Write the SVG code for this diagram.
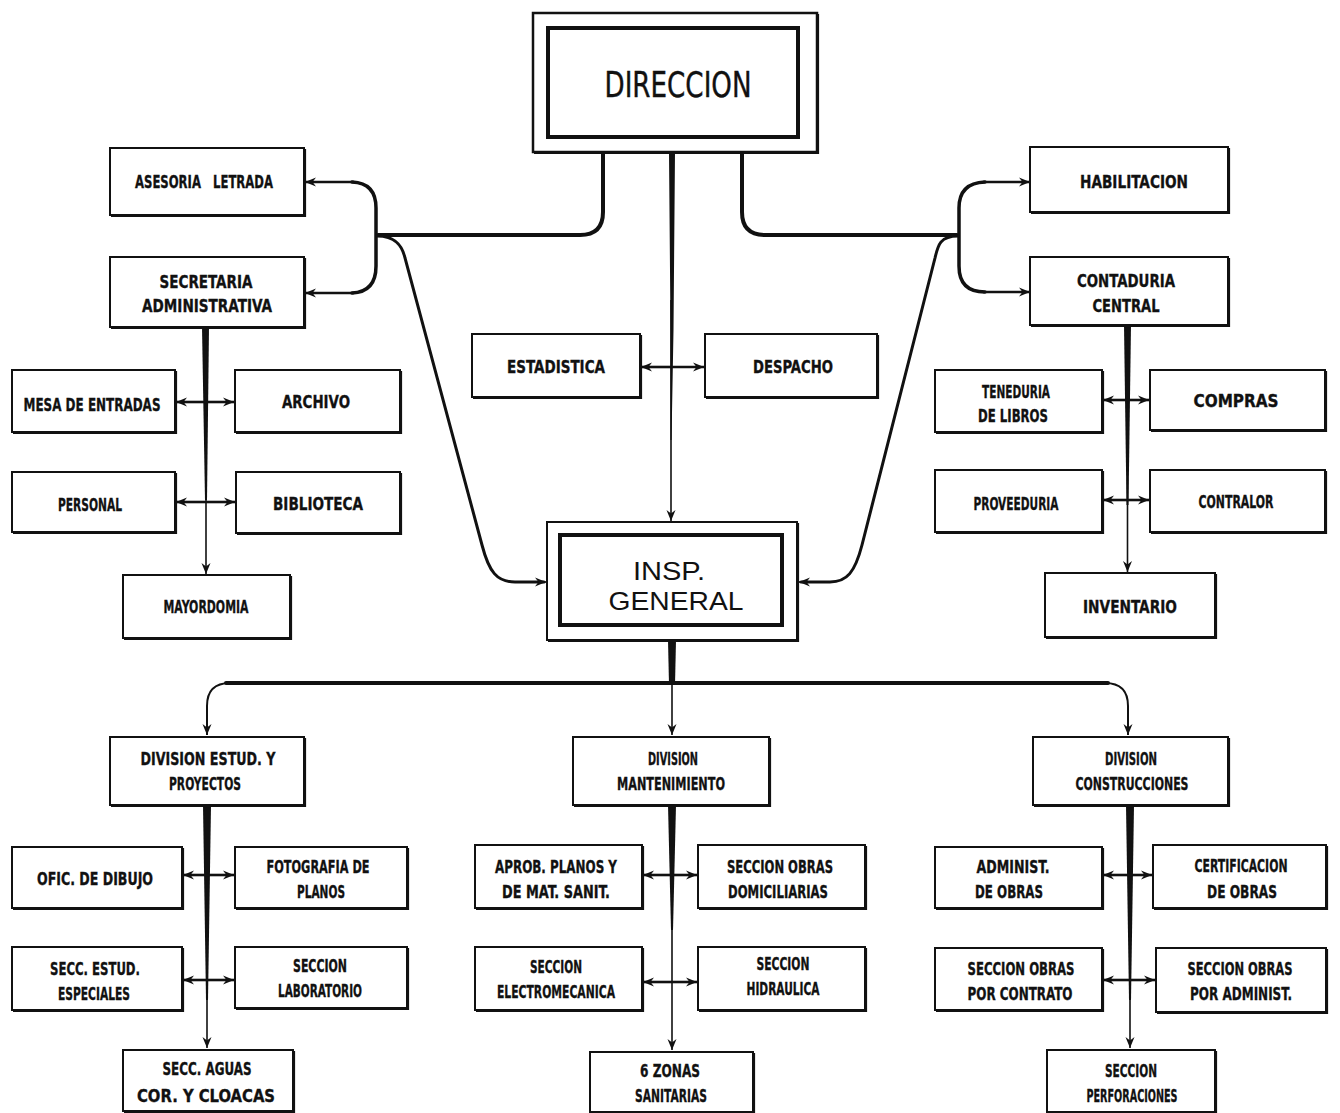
<svg xmlns="http://www.w3.org/2000/svg" width="1340" height="1113" viewBox="0 0 1340 1113">
<defs>
<marker id="arr" markerUnits="userSpaceOnUse" markerWidth="12" markerHeight="10" refX="11" refY="5" orient="auto-start-reverse">
<path d="M0,0.5 L11,5 L0,9.5 L3.5,5 z" fill="#111"/>
</marker>
</defs>
<style>
.b{fill:#fff;stroke:#111;stroke-width:2}
.sh{fill:none;stroke:#111;stroke-width:2.2}
.in{fill:none;stroke:#111;stroke-width:4}
.t{font-family:"DejaVu Sans Condensed","Liberation Sans Narrow","Liberation Sans",sans-serif;font-weight:bold;font-size:18.5px;fill:#111;stroke:#111;stroke-width:0.35;text-anchor:middle}
.big{font-family:"DejaVu Sans Condensed","Liberation Sans",sans-serif;font-weight:normal;font-size:36px;fill:#111;stroke:#111;stroke-width:0.4;text-anchor:middle}
.ig{font-family:"Liberation Sans",Arial,sans-serif;font-weight:normal;font-size:26px;fill:#111;text-anchor:middle}
.c{fill:none;stroke:#111;stroke-width:3.5;stroke-linecap:round}
.thin{fill:none;stroke:#111;stroke-width:1.6}
.dbl{fill:none;stroke:#111;stroke-width:2.6}
.tk{fill:#111;stroke:none}
</style>
<rect width="1340" height="1113" fill="#fff"/>

<g id="connectors">
<path class="c" d="M603,152 V212 Q603,235 580,235 H378" style="stroke-width:4"/>
<path class="c" d="M742,152 V212 Q742,235 765,235 H957" style="stroke-width:4"/>
<path class="c" d="M352,182 Q376,183 376,208 V266 Q376,292 352,293"/>
<path class="dbl" d="M354,182 H305" marker-end="url(#arr)"/>
<path class="dbl" d="M354,293 H305" marker-end="url(#arr)"/>
<path class="c" d="M985,182 Q959,183 959,208 V266 Q959,292 985,292"/>
<path class="dbl" d="M983,182 H1030" marker-end="url(#arr)"/>
<path class="dbl" d="M983,292 H1030" marker-end="url(#arr)"/>
<path class="c" d="M377,236 C395,236 402,245 405,258 L482,545 C489,572 497,582 515,582 H544" style="stroke-width:3"/>
<path class="thin" d="M520,582 H546" marker-end="url(#arr)"/>
<path class="c" d="M958,236 C940,236 938,245 935,258 L862,545 C855,572 847,582 830,582 H801" style="stroke-width:3"/>
<path class="thin" d="M825,582 H799" marker-end="url(#arr)"/>
<polygon class="tk" points="669,152 675,152 673.5,330 671.5,440 670.5,440 670.5,330"/>
<path class="thin" d="M671,300 V521" marker-end="url(#arr)"/>
<path class="dbl" d="M671,367 H641" marker-end="url(#arr)"/>
<path class="dbl" d="M671,367 H704" marker-end="url(#arr)"/>
<polygon class="tk" points="202,327 209,327 207,500 205,500"/>
<path class="thin" d="M206,480 V574" marker-end="url(#arr)"/>
<path class="dbl" d="M205,402 H176" marker-end="url(#arr)"/>
<path class="dbl" d="M205,402 H234" marker-end="url(#arr)"/>
<path class="dbl" d="M205,502 H176" marker-end="url(#arr)"/>
<path class="dbl" d="M205,502 H235" marker-end="url(#arr)"/>
<polygon class="tk" points="1124,325 1131,325 1128.5,505 1126.5,505"/>
<path class="thin" d="M1127.5,480 V572" marker-end="url(#arr)"/>
<path class="dbl" d="M1127,400 H1103" marker-end="url(#arr)"/>
<path class="dbl" d="M1127,400 H1149" marker-end="url(#arr)"/>
<path class="dbl" d="M1127,500 H1103" marker-end="url(#arr)"/>
<path class="dbl" d="M1127,500 H1149" marker-end="url(#arr)"/>
<polygon class="tk" points="668,640 676,640 675,685 669,685"/>
<path class="c" d="M226,683 H1108" style="stroke-width:4"/>
<path class="thin" style="stroke-width:2" d="M230,683 Q207,683 207,706 V735" marker-end="url(#arr)"/>
<path class="thin" style="stroke-width:2" d="M1105,683 Q1128,683 1128,706 V735" marker-end="url(#arr)"/>
<path class="thin" d="M672,683 V735" marker-end="url(#arr)"/>
<polygon class="tk" points="203,805 211,805 208,1000 206,1000"/>
<path class="thin" d="M207,980 V1048" marker-end="url(#arr)"/>
<path class="dbl" d="M207,875 H183" marker-end="url(#arr)"/>
<path class="dbl" d="M207,875 H234" marker-end="url(#arr)"/>
<path class="dbl" d="M207,980 H183" marker-end="url(#arr)"/>
<path class="dbl" d="M207,980 H234" marker-end="url(#arr)"/>
<polygon class="tk" points="668,805 676,805 673,930 671,930"/>
<path class="thin" d="M672,910 V1050" marker-end="url(#arr)"/>
<path class="dbl" d="M672,875 H643" marker-end="url(#arr)"/>
<path class="dbl" d="M672,875 H697" marker-end="url(#arr)"/>
<path class="dbl" d="M672,982 H643" marker-end="url(#arr)"/>
<path class="dbl" d="M672,982 H697" marker-end="url(#arr)"/>
<polygon class="tk" points="1126,805 1134,805 1131,1000 1129,1000"/>
<path class="thin" d="M1130,980 V1048" marker-end="url(#arr)"/>
<path class="dbl" d="M1130,875 H1103" marker-end="url(#arr)"/>
<path class="dbl" d="M1130,875 H1152" marker-end="url(#arr)"/>
<path class="dbl" d="M1130,980 H1103" marker-end="url(#arr)"/>
<path class="dbl" d="M1130,980 H1155" marker-end="url(#arr)"/>
</g>

<g id="n_direccion">
<rect class="b" x="533" y="13" width="284" height="139" style="stroke-width:2.5"/>
<path class="sh" d="M818,14 V153 H534"/>
<rect class="in" x="548" y="28" width="250" height="109"/>
<text class="big" x="678" y="97" textLength="147" lengthAdjust="spacingAndGlyphs">DIRECCION</text>
</g>
<g id="n_asesoria"><rect class="b" x="110" y="148" width="194" height="67"/><path class="sh" d="M305,149 V216 H111"/>
<text class="t" x="204" y="188" textLength="138" lengthAdjust="spacingAndGlyphs" xml:space="preserve">ASESORIA   LETRADA</text></g>
<g id="n_secretaria"><rect class="b" x="110" y="257" width="194" height="70"/><path class="sh" d="M305,258 V328 H111"/>
<text class="t" x="206" y="288" textLength="93" lengthAdjust="spacingAndGlyphs">SECRETARIA</text>
<text class="t" x="207" y="312" textLength="130" lengthAdjust="spacingAndGlyphs">ADMINISTRATIVA</text></g>
<g id="n_mesa"><rect class="b" x="12" y="370" width="163" height="62"/><path class="sh" d="M176,371 V433 H13"/>
<text class="t" x="92" y="411" textLength="137" lengthAdjust="spacingAndGlyphs">MESA DE ENTRADAS</text></g>
<g id="n_archivo"><rect class="b" x="235" y="370" width="165" height="62"/><path class="sh" d="M401,371 V433 H236"/>
<text class="t" x="316" y="408" textLength="68" lengthAdjust="spacingAndGlyphs">ARCHIVO</text></g>
<g id="n_personal"><rect class="b" x="12" y="472" width="163" height="60"/><path class="sh" d="M176,473 V533 H13"/>
<text class="t" x="90" y="511" textLength="64" lengthAdjust="spacingAndGlyphs">PERSONAL</text></g>
<g id="n_biblioteca"><rect class="b" x="236" y="472" width="164" height="61"/><path class="sh" d="M401,473 V534 H237"/>
<text class="t" x="318" y="510" textLength="90" lengthAdjust="spacingAndGlyphs">BIBLIOTECA</text></g>
<g id="n_mayordomia"><rect class="b" x="123" y="575" width="167" height="63"/><path class="sh" d="M291,576 V639 H124"/>
<text class="t" x="206" y="613" textLength="85" lengthAdjust="spacingAndGlyphs">MAYORDOMIA</text></g>

<g id="n_estadistica"><rect class="b" x="472" y="334" width="168" height="63"/><path class="sh" d="M641,335 V398 H473"/>
<text class="t" x="556" y="373" textLength="98" lengthAdjust="spacingAndGlyphs">ESTADISTICA</text></g>
<g id="n_despacho"><rect class="b" x="705" y="334" width="172" height="63"/><path class="sh" d="M878,335 V398 H706"/>
<text class="t" x="793" y="373" textLength="80" lengthAdjust="spacingAndGlyphs">DESPACHO</text></g>
<g id="n_insp">
<rect class="b" x="547" y="522" width="250" height="118"/><path class="sh" d="M798,523 V641 H548"/>
<rect class="in" x="560" y="535" width="222" height="90"/>
<text class="ig" x="669" y="580" textLength="72" lengthAdjust="spacingAndGlyphs">INSP.</text>
<text class="ig" x="676" y="610" textLength="135" lengthAdjust="spacingAndGlyphs">GENERAL</text>
</g>

<g id="n_habilitacion"><rect class="b" x="1030" y="147" width="198" height="65"/><path class="sh" d="M1229,148 V213 H1031"/>
<text class="t" x="1134" y="188" textLength="108" lengthAdjust="spacingAndGlyphs">HABILITACION</text></g>
<g id="n_contaduria"><rect class="b" x="1030" y="257" width="198" height="68"/><path class="sh" d="M1229,258 V326 H1031"/>
<text class="t" x="1126" y="287" textLength="98" lengthAdjust="spacingAndGlyphs">CONTADURIA</text>
<text class="t" x="1126" y="312" textLength="67" lengthAdjust="spacingAndGlyphs">CENTRAL</text></g>
<g id="n_teneduria"><rect class="b" x="935" y="370" width="167" height="62"/><path class="sh" d="M1103,371 V433 H936"/>
<text class="t" x="1016" y="398" textLength="68" lengthAdjust="spacingAndGlyphs">TENEDURIA</text>
<text class="t" x="1013" y="422" textLength="70" lengthAdjust="spacingAndGlyphs">DE LIBROS</text></g>
<g id="n_compras"><rect class="b" x="1150" y="370" width="175" height="60"/><path class="sh" d="M1326,371 V431 H1151"/>
<text class="t" x="1236" y="407" textLength="85" lengthAdjust="spacingAndGlyphs">COMPRAS</text></g>
<g id="n_proveeduria"><rect class="b" x="935" y="470" width="167" height="62"/><path class="sh" d="M1103,471 V533 H936"/>
<text class="t" x="1016" y="510" textLength="85" lengthAdjust="spacingAndGlyphs">PROVEEDURIA</text></g>
<g id="n_contralor"><rect class="b" x="1150" y="470" width="175" height="62"/><path class="sh" d="M1326,471 V533 H1151"/>
<text class="t" x="1236" y="508" textLength="75" lengthAdjust="spacingAndGlyphs">CONTRALOR</text></g>
<g id="n_inventario"><rect class="b" x="1045" y="573" width="170" height="64"/><path class="sh" d="M1216,574 V638 H1046"/>
<text class="t" x="1130" y="613" textLength="94" lengthAdjust="spacingAndGlyphs">INVENTARIO</text></g>

<g id="n_div_estud"><rect class="b" x="110" y="737" width="194" height="68"/><path class="sh" d="M305,738 V806 H111"/>
<text class="t" x="208" y="765" textLength="135" lengthAdjust="spacingAndGlyphs">DIVISION ESTUD. Y</text>
<text class="t" x="205" y="790" textLength="72" lengthAdjust="spacingAndGlyphs">PROYECTOS</text></g>
<g id="n_div_mant"><rect class="b" x="573" y="737" width="196" height="68"/><path class="sh" d="M770,738 V806 H574"/>
<text class="t" x="673" y="765" textLength="50" lengthAdjust="spacingAndGlyphs">DIVISION</text>
<text class="t" x="671" y="790" textLength="108" lengthAdjust="spacingAndGlyphs">MANTENIMIENTO</text></g>
<g id="n_div_cons"><rect class="b" x="1033" y="737" width="195" height="68"/><path class="sh" d="M1229,738 V806 H1034"/>
<text class="t" x="1131" y="765" textLength="52" lengthAdjust="spacingAndGlyphs">DIVISION</text>
<text class="t" x="1132" y="790" textLength="113" lengthAdjust="spacingAndGlyphs">CONSTRUCCIONES</text></g>

<g id="n_ofic"><rect class="b" x="12" y="847" width="170" height="61"/><path class="sh" d="M183,848 V909 H13"/>
<text class="t" x="95" y="885" textLength="116" lengthAdjust="spacingAndGlyphs">OFIC. DE DIBUJO</text></g>
<g id="n_foto"><rect class="b" x="235" y="847" width="172" height="61"/><path class="sh" d="M408,848 V909 H236"/>
<text class="t" x="318" y="873" textLength="103" lengthAdjust="spacingAndGlyphs">FOTOGRAFIA DE</text>
<text class="t" x="321" y="898" textLength="48" lengthAdjust="spacingAndGlyphs">PLANOS</text></g>
<g id="n_secc_estud"><rect class="b" x="12" y="947" width="170" height="63"/><path class="sh" d="M183,948 V1011 H13"/>
<text class="t" x="95" y="975" textLength="90" lengthAdjust="spacingAndGlyphs">SECC. ESTUD.</text>
<text class="t" x="94" y="1000" textLength="72" lengthAdjust="spacingAndGlyphs">ESPECIALES</text></g>
<g id="n_lab"><rect class="b" x="235" y="947" width="172" height="61"/><path class="sh" d="M408,948 V1009 H236"/>
<text class="t" x="320" y="972" textLength="54" lengthAdjust="spacingAndGlyphs">SECCION</text>
<text class="t" x="320" y="997" textLength="84" lengthAdjust="spacingAndGlyphs">LABORATORIO</text></g>
<g id="n_aguas"><rect class="b" x="123" y="1050" width="170" height="61"/><path class="sh" d="M294,1051 V1112 H124"/>
<text class="t" x="207" y="1075" textLength="89" lengthAdjust="spacingAndGlyphs">SECC. AGUAS</text>
<text class="t" x="206" y="1102" textLength="138" lengthAdjust="spacingAndGlyphs">COR. Y CLOACAS</text></g>

<g id="n_aprob"><rect class="b" x="475" y="845" width="167" height="63"/><path class="sh" d="M643,846 V909 H476"/>
<text class="t" x="556" y="873" textLength="122" lengthAdjust="spacingAndGlyphs">APROB. PLANOS Y</text>
<text class="t" x="556" y="898" textLength="108" lengthAdjust="spacingAndGlyphs">DE MAT. SANIT.</text></g>
<g id="n_domic"><rect class="b" x="698" y="845" width="167" height="63"/><path class="sh" d="M866,846 V909 H699"/>
<text class="t" x="780" y="873" textLength="106" lengthAdjust="spacingAndGlyphs">SECCION OBRAS</text>
<text class="t" x="778" y="898" textLength="100" lengthAdjust="spacingAndGlyphs">DOMICILIARIAS</text></g>
<g id="n_electro"><rect class="b" x="475" y="947" width="167" height="63"/><path class="sh" d="M643,948 V1011 H476"/>
<text class="t" x="556" y="973" textLength="52" lengthAdjust="spacingAndGlyphs">SECCION</text>
<text class="t" x="556" y="998" textLength="118" lengthAdjust="spacingAndGlyphs">ELECTROMECANICA</text></g>
<g id="n_hidra"><rect class="b" x="698" y="947" width="167" height="63"/><path class="sh" d="M866,948 V1011 H699"/>
<text class="t" x="783" y="970" textLength="53" lengthAdjust="spacingAndGlyphs">SECCION</text>
<text class="t" x="783" y="995" textLength="73" lengthAdjust="spacingAndGlyphs">HIDRAULICA</text></g>
<g id="n_zonas"><rect class="b" x="590" y="1052" width="163" height="60"/><path class="sh" d="M754,1053 V1113 H591"/>
<text class="t" x="670" y="1077" textLength="60" lengthAdjust="spacingAndGlyphs">6 ZONAS</text>
<text class="t" x="671" y="1102" textLength="72" lengthAdjust="spacingAndGlyphs">SANITARIAS</text></g>

<g id="n_admin_obras"><rect class="b" x="935" y="847" width="167" height="61"/><path class="sh" d="M1103,848 V909 H936"/>
<text class="t" x="1013" y="873" textLength="73" lengthAdjust="spacingAndGlyphs">ADMINIST.</text>
<text class="t" x="1009" y="898" textLength="68" lengthAdjust="spacingAndGlyphs">DE OBRAS</text></g>
<g id="n_certif"><rect class="b" x="1153" y="845" width="173" height="63"/><path class="sh" d="M1327,846 V909 H1154"/>
<text class="t" x="1241" y="872" textLength="93" lengthAdjust="spacingAndGlyphs">CERTIFICACION</text>
<text class="t" x="1242" y="898" textLength="70" lengthAdjust="spacingAndGlyphs">DE OBRAS</text></g>
<g id="n_contrato"><rect class="b" x="935" y="948" width="167" height="62"/><path class="sh" d="M1103,949 V1011 H936"/>
<text class="t" x="1021" y="975" textLength="107" lengthAdjust="spacingAndGlyphs">SECCION OBRAS</text>
<text class="t" x="1020" y="1000" textLength="105" lengthAdjust="spacingAndGlyphs">POR CONTRATO</text></g>
<g id="n_por_admin"><rect class="b" x="1156" y="948" width="170" height="64"/><path class="sh" d="M1327,949 V1013 H1157"/>
<text class="t" x="1240" y="975" textLength="105" lengthAdjust="spacingAndGlyphs">SECCION OBRAS</text>
<text class="t" x="1241" y="1000" textLength="102" lengthAdjust="spacingAndGlyphs">POR ADMINIST.</text></g>
<g id="n_perfor"><rect class="b" x="1047" y="1050" width="168" height="62"/><path class="sh" d="M1216,1051 V1113 H1048"/>
<text class="t" x="1131" y="1077" textLength="52" lengthAdjust="spacingAndGlyphs">SECCION</text>
<text class="t" x="1132" y="1102" textLength="91" lengthAdjust="spacingAndGlyphs">PERFORACIONES</text></g>
</svg>
